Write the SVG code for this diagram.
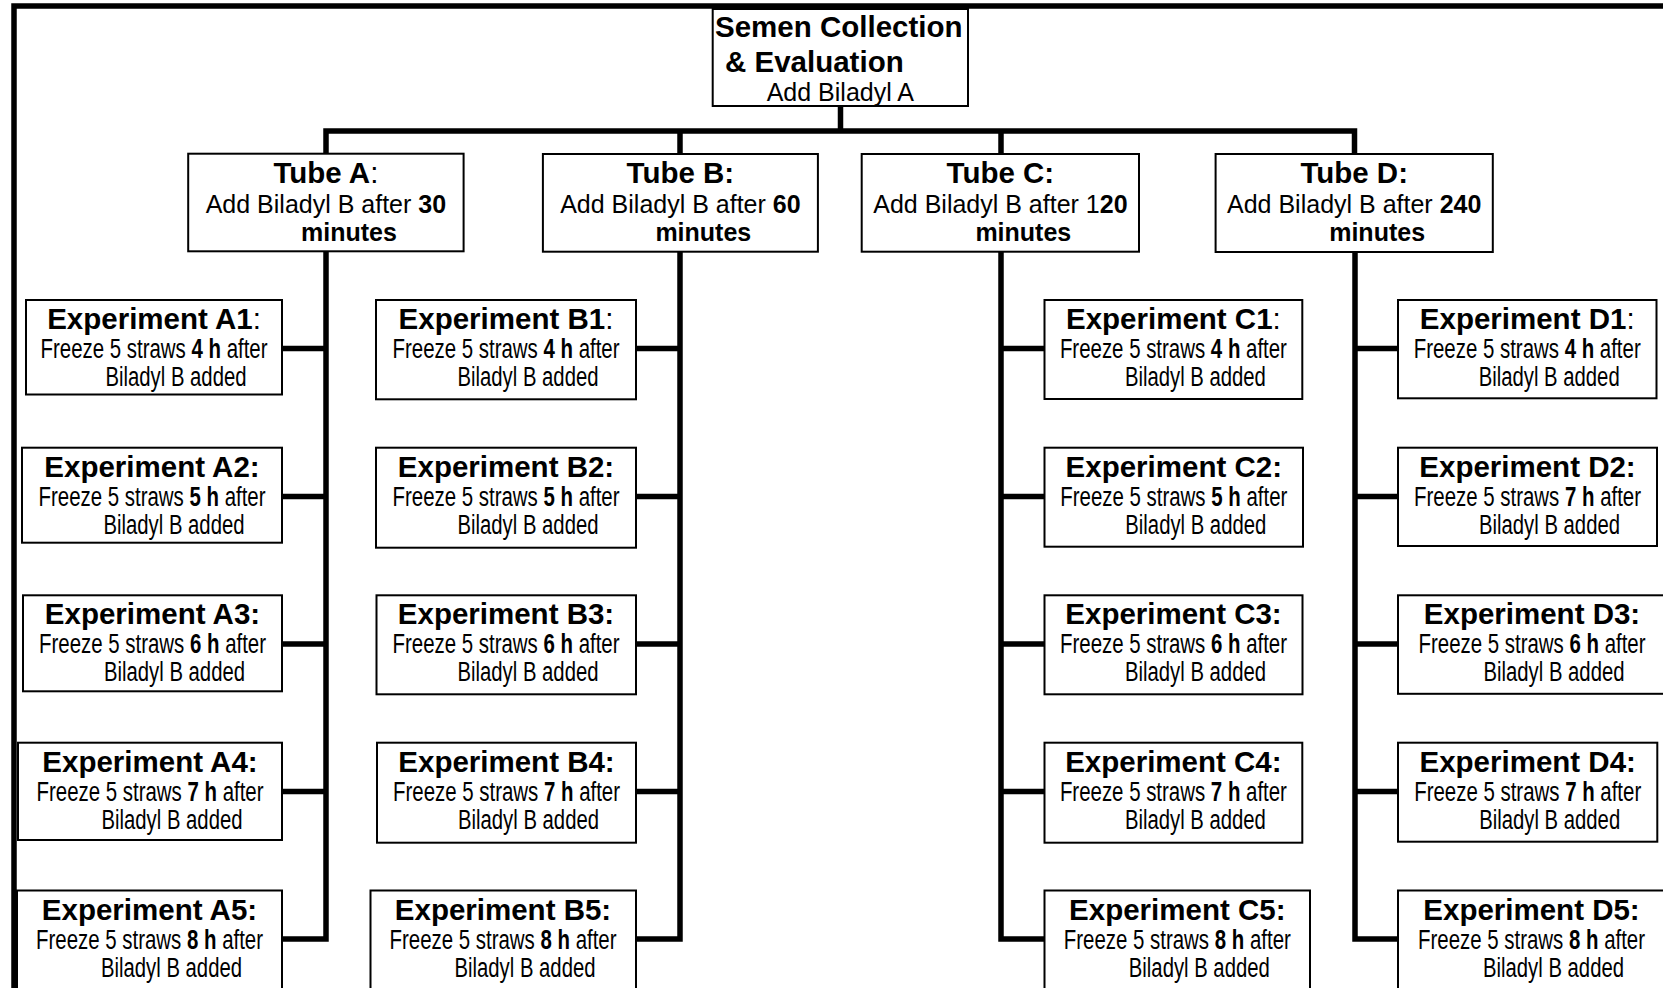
<svg xmlns="http://www.w3.org/2000/svg" width="1663" height="988" viewBox="0 0 1663 988">
<style>
.box{fill:#fff;stroke:#000;stroke-width:2}
.ln{fill:none;stroke:#000;stroke-width:5.5;stroke-linejoin:miter;stroke-linecap:butt}
.t{font-family:"Liberation Sans",Arial,sans-serif;fill:#000}
.tb{font-size:29.5px;font-weight:bold}
.r25{font-size:25px}
.n{font-size:27px}
.b{font-weight:bold}
.nb{font-weight:normal}
</style>
<rect x="0" y="0" width="1663" height="988" fill="#fff"/>
<g id="connectors">
<path class="ln" d="M14,988 V6 H1663"/>
<path class="ln" d="M840.5,106 V131"/>
<path class="ln" d="M326,154 V131 H1354.5 V154"/>
<path class="ln" d="M680,131 V154"/>
<path class="ln" d="M1001,131 V154"/>
<path class="ln" d="M326,251 V939 H282"/>
<path class="ln" d="M680,251 V939 H636"/>
<path class="ln" d="M1001,251 V939 H1044.5"/>
<path class="ln" d="M1355,251 V939 H1398"/>
<path class="ln" d="M282,348.5 H326 M282,496.5 H326 M282,644 H326 M282,791.5 H326"/>
<path class="ln" d="M636,348.5 H680 M636,496.5 H680 M636,644 H680 M636,791.5 H680"/>
<path class="ln" d="M1001,348.5 H1044.5 M1001,496.5 H1044.5 M1001,644 H1044.5 M1001,791.5 H1044.5"/>
<path class="ln" d="M1355,348.5 H1398 M1355,496.5 H1398 M1355,644 H1398 M1355,791.5 H1398"/>
</g>
<g id="root">
<rect class="box" x="712.7" y="9" width="255.3" height="97"/>
<text class="t tb" x="715" y="36.7">Semen Collection</text>
<text class="t tb" x="725" y="71.7">&amp; Evaluation</text>
<text class="t r25" x="766.7" y="101">Add Biladyl A</text>
</g>
<g id="tubeA">
<rect class="box" x="188.2" y="153.7" width="275.4" height="97.6"/>
<text class="t tb" x="325.9" y="182.7" text-anchor="middle">Tube A<tspan class="nb">:</tspan></text>
<text class="t r25" x="325.9" y="212.5" text-anchor="middle">Add Biladyl B after <tspan class="b">30</tspan></text>
<text class="t r25 b" x="301" y="241">minutes</text>
</g>
<g id="tubeB">
<rect class="box" x="542.9" y="154" width="275" height="97.7"/>
<text class="t tb" x="680.4" y="182.7" text-anchor="middle">Tube B:</text>
<text class="t r25" x="680.4" y="212.5" text-anchor="middle">Add Biladyl B after <tspan class="b">60</tspan></text>
<text class="t r25 b" x="655.4" y="241">minutes</text>
</g>
<g id="tubeC">
<rect class="box" x="861.7" y="154" width="277.3" height="97.7"/>
<text class="t tb" x="1000.4" y="182.7" text-anchor="middle">Tube C:</text>
<text class="t r25" x="1000.4" y="212.5" text-anchor="middle">Add Biladyl B after 1<tspan class="b">20</tspan></text>
<text class="t r25 b" x="975.4" y="241">minutes</text>
</g>
<g id="tubeD">
<rect class="box" x="1215.6" y="154" width="277.2" height="98"/>
<text class="t tb" x="1354.2" y="182.7" text-anchor="middle">Tube D:</text>
<text class="t r25" x="1354.2" y="212.5" text-anchor="middle">Add Biladyl B after <tspan class="b">240</tspan></text>
<text class="t r25 b" x="1329.2" y="241">minutes</text>
</g>
<!-- Column A -->
<g id="expA1">
<rect class="box" x="26" y="300" width="256" height="94.5"/>
<text class="t tb" x="154" y="329" text-anchor="middle">Experiment A1<tspan class="nb">:</tspan></text>
<text class="t n" x="40.5" y="358" textLength="227" lengthAdjust="spacingAndGlyphs">Freeze 5 straws <tspan class="b">4 h</tspan> after</text>
<text class="t n" x="105.5" y="386" textLength="141" lengthAdjust="spacingAndGlyphs">Biladyl B added</text>
</g>
<g id="expA2">
<rect class="box" x="22" y="447.7" width="260" height="95"/>
<text class="t tb" x="152" y="476.7" text-anchor="middle">Experiment A2:</text>
<text class="t n" x="38.5" y="505.7" textLength="227" lengthAdjust="spacingAndGlyphs">Freeze 5 straws <tspan class="b">5 h</tspan> after</text>
<text class="t n" x="103.5" y="533.7" textLength="141" lengthAdjust="spacingAndGlyphs">Biladyl B added</text>
</g>
<g id="expA3">
<rect class="box" x="23" y="595.3" width="259" height="96"/>
<text class="t tb" x="152.5" y="624.3" text-anchor="middle">Experiment A3:</text>
<text class="t n" x="39" y="653.3" textLength="227" lengthAdjust="spacingAndGlyphs">Freeze 5 straws <tspan class="b">6 h</tspan> after</text>
<text class="t n" x="104" y="681.3" textLength="141" lengthAdjust="spacingAndGlyphs">Biladyl B added</text>
</g>
<g id="expA4">
<rect class="box" x="18" y="742.7" width="264" height="97.3"/>
<text class="t tb" x="150" y="771.7" text-anchor="middle">Experiment A4:</text>
<text class="t n" x="36.5" y="800.7" textLength="227" lengthAdjust="spacingAndGlyphs">Freeze 5 straws <tspan class="b">7 h</tspan> after</text>
<text class="t n" x="101.5" y="828.7" textLength="141" lengthAdjust="spacingAndGlyphs">Biladyl B added</text>
</g>
<g id="expA5">
<rect class="box" x="17" y="890.5" width="265" height="120"/>
<text class="t tb" x="149.5" y="919.5" text-anchor="middle">Experiment A5:</text>
<text class="t n" x="36" y="948.5" textLength="227" lengthAdjust="spacingAndGlyphs">Freeze 5 straws <tspan class="b">8 h</tspan> after</text>
<text class="t n" x="101" y="976.5" textLength="141" lengthAdjust="spacingAndGlyphs">Biladyl B added</text>
</g>
<!-- Column B -->
<g id="expB1">
<rect class="box" x="376" y="300" width="260" height="99.3"/>
<text class="t tb" x="506" y="329" text-anchor="middle">Experiment B1<tspan class="nb">:</tspan></text>
<text class="t n" x="392.5" y="358" textLength="227" lengthAdjust="spacingAndGlyphs">Freeze 5 straws <tspan class="b">4 h</tspan> after</text>
<text class="t n" x="457.5" y="386" textLength="141" lengthAdjust="spacingAndGlyphs">Biladyl B added</text>
</g>
<g id="expB2">
<rect class="box" x="376" y="447.7" width="260" height="100"/>
<text class="t tb" x="506" y="476.7" text-anchor="middle">Experiment B2:</text>
<text class="t n" x="392.5" y="505.7" textLength="227" lengthAdjust="spacingAndGlyphs">Freeze 5 straws <tspan class="b">5 h</tspan> after</text>
<text class="t n" x="457.5" y="533.7" textLength="141" lengthAdjust="spacingAndGlyphs">Biladyl B added</text>
</g>
<g id="expB3">
<rect class="box" x="376.5" y="595.3" width="259.5" height="99"/>
<text class="t tb" x="506" y="624.3" text-anchor="middle">Experiment B3:</text>
<text class="t n" x="392.5" y="653.3" textLength="227" lengthAdjust="spacingAndGlyphs">Freeze 5 straws <tspan class="b">6 h</tspan> after</text>
<text class="t n" x="457.5" y="681.3" textLength="141" lengthAdjust="spacingAndGlyphs">Biladyl B added</text>
</g>
<g id="expB4">
<rect class="box" x="377" y="742.7" width="259" height="100"/>
<text class="t tb" x="506.5" y="771.7" text-anchor="middle">Experiment B4:</text>
<text class="t n" x="393" y="800.7" textLength="227" lengthAdjust="spacingAndGlyphs">Freeze 5 straws <tspan class="b">7 h</tspan> after</text>
<text class="t n" x="458" y="828.7" textLength="141" lengthAdjust="spacingAndGlyphs">Biladyl B added</text>
</g>
<g id="expB5">
<rect class="box" x="370.5" y="890.5" width="265.5" height="120"/>
<text class="t tb" x="503" y="919.5" text-anchor="middle">Experiment B5:</text>
<text class="t n" x="389.5" y="948.5" textLength="227" lengthAdjust="spacingAndGlyphs">Freeze 5 straws <tspan class="b">8 h</tspan> after</text>
<text class="t n" x="454.5" y="976.5" textLength="141" lengthAdjust="spacingAndGlyphs">Biladyl B added</text>
</g>
<!-- Column C -->
<g id="expC1">
<rect class="box" x="1044.5" y="300" width="257.8" height="99"/>
<text class="t tb" x="1173.4" y="329" text-anchor="middle">Experiment C1<tspan class="nb">:</tspan></text>
<text class="t n" x="1059.9" y="358" textLength="227" lengthAdjust="spacingAndGlyphs">Freeze 5 straws <tspan class="b">4 h</tspan> after</text>
<text class="t n" x="1124.9" y="386" textLength="141" lengthAdjust="spacingAndGlyphs">Biladyl B added</text>
</g>
<g id="expC2">
<rect class="box" x="1044.5" y="447.7" width="258.5" height="99"/>
<text class="t tb" x="1173.8" y="476.7" text-anchor="middle">Experiment C2:</text>
<text class="t n" x="1060.3" y="505.7" textLength="227" lengthAdjust="spacingAndGlyphs">Freeze 5 straws <tspan class="b">5 h</tspan> after</text>
<text class="t n" x="1125.3" y="533.7" textLength="141" lengthAdjust="spacingAndGlyphs">Biladyl B added</text>
</g>
<g id="expC3">
<rect class="box" x="1044.5" y="595.3" width="258" height="99"/>
<text class="t tb" x="1173.5" y="624.3" text-anchor="middle">Experiment C3:</text>
<text class="t n" x="1060" y="653.3" textLength="227" lengthAdjust="spacingAndGlyphs">Freeze 5 straws <tspan class="b">6 h</tspan> after</text>
<text class="t n" x="1125" y="681.3" textLength="141" lengthAdjust="spacingAndGlyphs">Biladyl B added</text>
</g>
<g id="expC4">
<rect class="box" x="1044.5" y="742.7" width="257.8" height="100"/>
<text class="t tb" x="1173.4" y="771.7" text-anchor="middle">Experiment C4:</text>
<text class="t n" x="1059.9" y="800.7" textLength="227" lengthAdjust="spacingAndGlyphs">Freeze 5 straws <tspan class="b">7 h</tspan> after</text>
<text class="t n" x="1124.9" y="828.7" textLength="141" lengthAdjust="spacingAndGlyphs">Biladyl B added</text>
</g>
<g id="expC5">
<rect class="box" x="1044.5" y="890.5" width="265.5" height="120"/>
<text class="t tb" x="1177.3" y="919.5" text-anchor="middle">Experiment C5:</text>
<text class="t n" x="1063.8" y="948.5" textLength="227" lengthAdjust="spacingAndGlyphs">Freeze 5 straws <tspan class="b">8 h</tspan> after</text>
<text class="t n" x="1128.8" y="976.5" textLength="141" lengthAdjust="spacingAndGlyphs">Biladyl B added</text>
</g>
<!-- Column D -->
<g id="expD1">
<rect class="box" x="1398" y="300" width="258.5" height="98.3"/>
<text class="t tb" x="1527.2" y="329" text-anchor="middle">Experiment D1<tspan class="nb">:</tspan></text>
<text class="t n" x="1413.7" y="358" textLength="227" lengthAdjust="spacingAndGlyphs">Freeze 5 straws <tspan class="b">4 h</tspan> after</text>
<text class="t n" x="1478.7" y="386" textLength="141" lengthAdjust="spacingAndGlyphs">Biladyl B added</text>
</g>
<g id="expD2">
<rect class="box" x="1398" y="447.7" width="259" height="98.3"/>
<text class="t tb" x="1527.5" y="476.7" text-anchor="middle">Experiment D2:</text>
<text class="t n" x="1414" y="505.7" textLength="227" lengthAdjust="spacingAndGlyphs">Freeze 5 straws <tspan class="b">7 h</tspan> after</text>
<text class="t n" x="1479" y="533.7" textLength="141" lengthAdjust="spacingAndGlyphs">Biladyl B added</text>
</g>
<g id="expD3">
<rect class="box" x="1398" y="595.3" width="268" height="98.5"/>
<text class="t tb" x="1532" y="624.3" text-anchor="middle">Experiment D3:</text>
<text class="t n" x="1418.5" y="653.3" textLength="227" lengthAdjust="spacingAndGlyphs">Freeze 5 straws <tspan class="b">6 h</tspan> after</text>
<text class="t n" x="1483.5" y="681.3" textLength="141" lengthAdjust="spacingAndGlyphs">Biladyl B added</text>
</g>
<g id="expD4">
<rect class="box" x="1398" y="742.7" width="259.3" height="99"/>
<text class="t tb" x="1527.7" y="771.7" text-anchor="middle">Experiment D4:</text>
<text class="t n" x="1414.2" y="800.7" textLength="227" lengthAdjust="spacingAndGlyphs">Freeze 5 straws <tspan class="b">7 h</tspan> after</text>
<text class="t n" x="1479.2" y="828.7" textLength="141" lengthAdjust="spacingAndGlyphs">Biladyl B added</text>
</g>
<g id="expD5">
<rect class="box" x="1398" y="890.5" width="268" height="120"/>
<text class="t tb" x="1531.5" y="919.5" text-anchor="middle">Experiment D5:</text>
<text class="t n" x="1418" y="948.5" textLength="227" lengthAdjust="spacingAndGlyphs">Freeze 5 straws <tspan class="b">8 h</tspan> after</text>
<text class="t n" x="1483" y="976.5" textLength="141" lengthAdjust="spacingAndGlyphs">Biladyl B added</text>
</g>
</svg>
